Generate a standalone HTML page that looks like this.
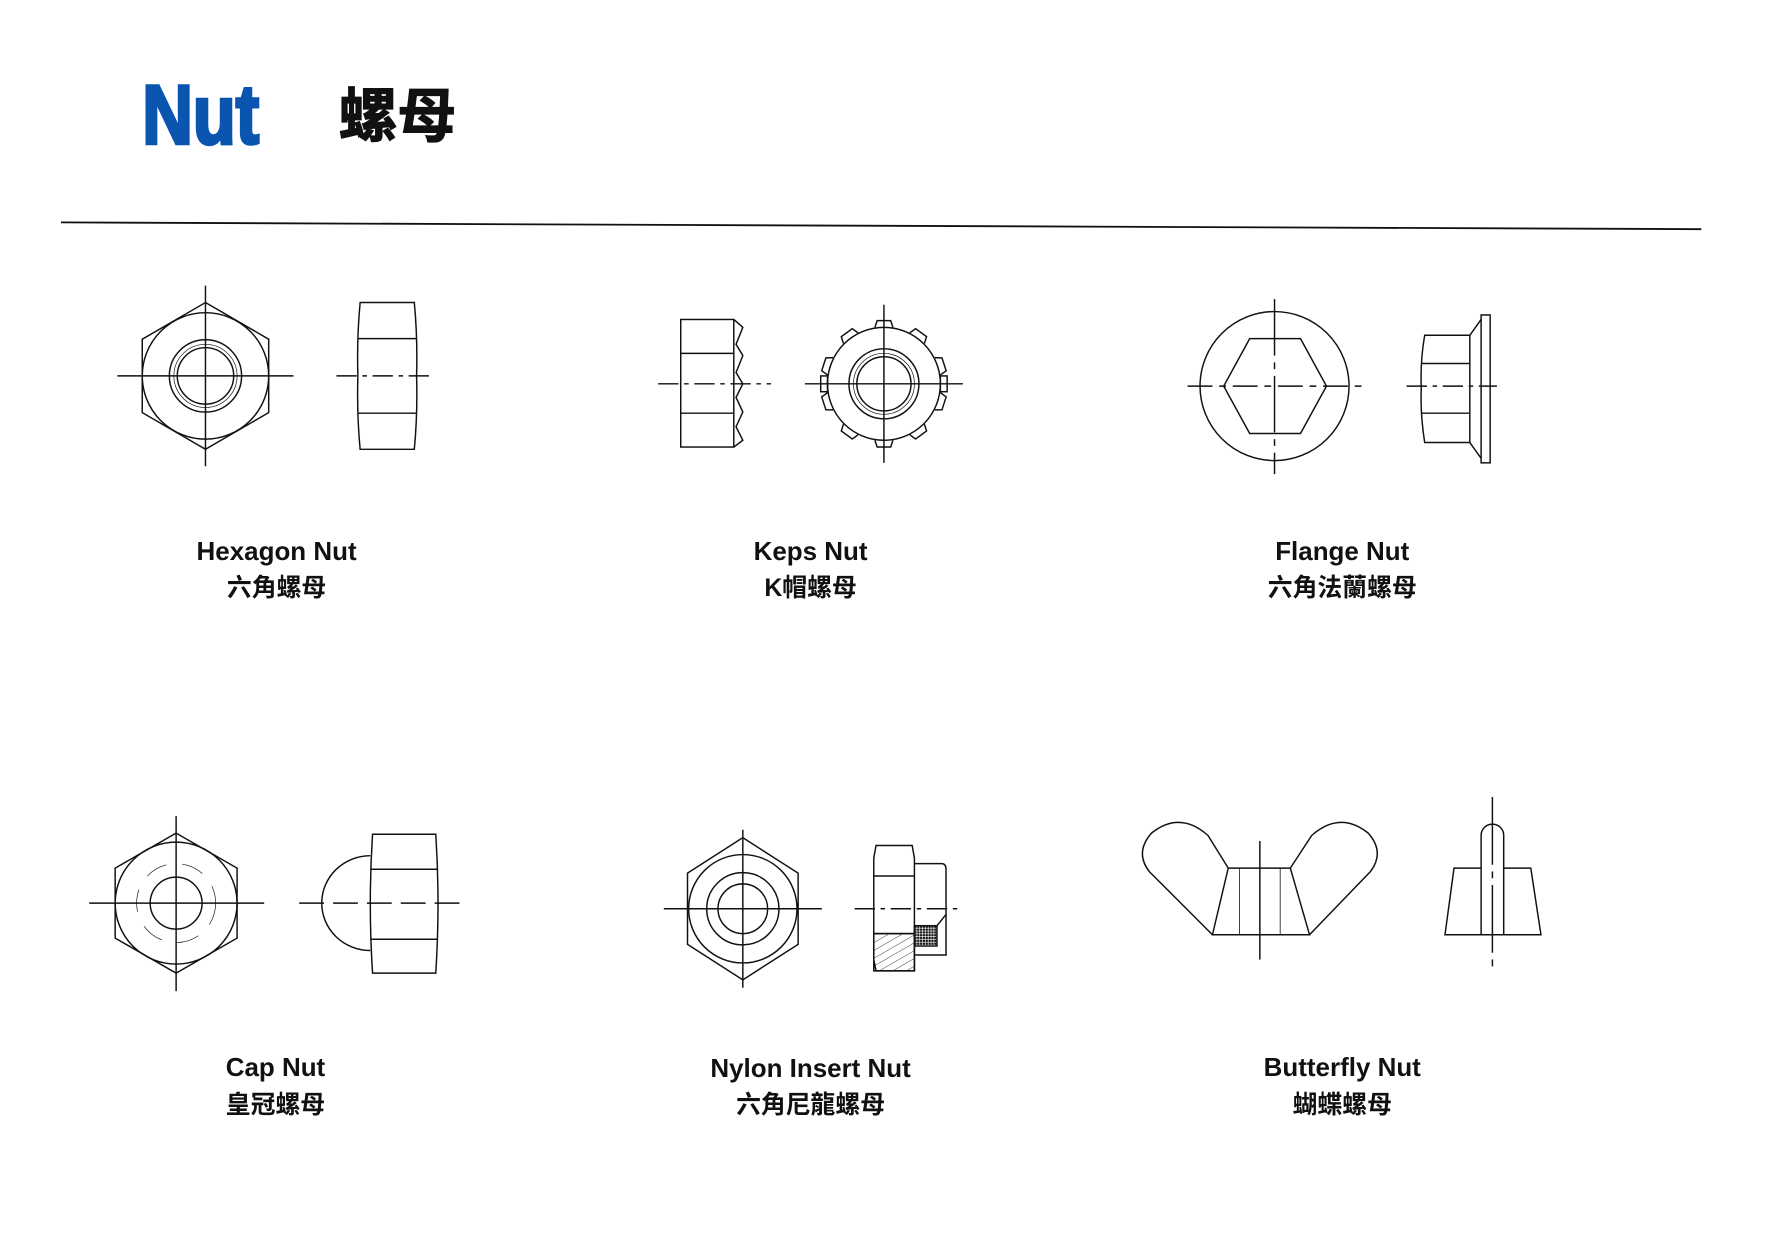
<!DOCTYPE html>
<html><head><meta charset="utf-8"><style>
html,body{margin:0;padding:0;background:#fff;width:1769px;height:1256px;overflow:hidden;}
svg{display:block}
text{font-family:"Liberation Sans","Noto Sans CJK TC",sans-serif;font-weight:bold;fill:#111}
</style></head><body>
<svg width="1769" height="1256" viewBox="0 0 1567 1112.6" xmlns="http://www.w3.org/2000/svg">
<rect width="1567" height="1112.6" fill="#fff"/>
<text x="126" y="127" style="fill:#0a55b0;font-size:74px;stroke:#0a55b0;stroke-width:3" transform="translate(126 0) scale(0.84 1) translate(-126 0)">Nut</text>
<text x="300" y="121" style="font-size:52px;stroke:#111;stroke-width:1">螺母</text>
<line x1="54" y1="197" x2="1507" y2="203" stroke="#111" stroke-width="1.6"/>

<g fill="none" stroke="#111" stroke-width="1.3">
<polygon points="182,268 238,300.5 238,365.5 182,398 126,365.5 126,300.5"/>
<circle cx="182" cy="333" r="56"/>
<circle cx="182" cy="333" r="32"/>
<circle cx="182" cy="333" r="28" stroke-width="0.6"/>
<circle cx="182" cy="333" r="25"/>
<line x1="104" y1="333" x2="260" y2="333"/><line x1="182" y1="253" x2="182" y2="413"/>
<path d="M319,268 H367 Q370,300 369,333 Q370,366 367,398 H319 Q316,366 317,333 Q316,300 319,268Z"/>
<line x1="317" y1="300" x2="369" y2="300"/><line x1="317" y1="366" x2="369" y2="366"/>
<line x1="298" y1="333" x2="383" y2="333" stroke-dasharray="18,5,4,5"/>

<rect x="603" y="283" width="47" height="113"/>
<line x1="603" y1="313" x2="650" y2="313"/><line x1="603" y1="366" x2="650" y2="366"/>
<path d="M650,283 L658,290 L652,305 L658,315 L652,330 L658,340 L652,352 L658,365 L652,378 L658,390 L650,396"/>
<line x1="583" y1="340" x2="683" y2="340" stroke-dasharray="18,5,4,5"/>
<circle cx="783" cy="340" r="50"/>
<circle cx="783" cy="340" r="31"/>
<circle cx="783" cy="340" r="27" stroke-width="0.6"/>
<circle cx="783" cy="340" r="24"/>
<g id="t"><path d="M775,290 L777,284 L789,284 L791,290"/></g>
<use href="#t" transform="rotate(36 783 340)"/><use href="#t" transform="rotate(72 783 340)"/>
<use href="#t" transform="rotate(108 783 340)"/><use href="#t" transform="rotate(144 783 340)"/>
<use href="#t" transform="rotate(180 783 340)"/><use href="#t" transform="rotate(216 783 340)"/>
<use href="#t" transform="rotate(252 783 340)"/><use href="#t" transform="rotate(288 783 340)"/>
<use href="#t" transform="rotate(324 783 340)"/>
<rect x="727" y="333" width="6" height="14"/><rect x="833" y="333" width="6" height="14"/>
<line x1="713" y1="340" x2="853" y2="340"/><line x1="783" y1="270" x2="783" y2="410"/>

<circle cx="1129" cy="342" r="66"/>
<polygon points="1084,342 1107,300 1152,300 1175,342 1152,384 1107,384"/>
<line x1="1052" y1="342" x2="1207" y2="342" stroke-dasharray="22,6,6,6"/>
<line x1="1129" y1="265" x2="1129" y2="420" stroke-dasharray="50,6,6,6"/>
<path d="M1262,297 H1302 V392 H1262 Q1258,366 1259,344 Q1258,320 1262,297Z"/>
<line x1="1259" y1="322" x2="1302" y2="322"/><line x1="1259" y1="366" x2="1302" y2="366"/>
<path d="M1302,297 L1312,283 M1302,392 L1312,406"/>
<rect x="1312" y="279" width="8" height="131"/>
<line x1="1246" y1="342" x2="1326" y2="342" stroke-dasharray="18,5,4,5"/>

<polygon points="156,738 210,769 210,831 156,862 102,831 102,769"/>
<circle cx="156" cy="800" r="54"/>
<circle cx="156" cy="800" r="23"/>
<circle cx="156" cy="800" r="35" stroke-width="0.6" stroke-dasharray="20,14"/>
<line x1="79" y1="800" x2="234" y2="800"/><line x1="156" y1="723" x2="156" y2="878"/>
<path d="M328,758 A43,42 0 0 0 328,842"/>
<path d="M330,739 H386 Q390,800 386,862 H330 Q326,800 330,739Z"/>
<line x1="328" y1="770" x2="388" y2="770"/><line x1="328" y1="832" x2="388" y2="832"/>
<line x1="265" y1="800" x2="408" y2="800" stroke-dasharray="22,8"/>

<polygon points="658,742 707,773.5 707,836.5 658,868 609,836.5 609,773.5"/>
<circle cx="658" cy="805" r="48"/>
<circle cx="658" cy="805" r="32"/>
<circle cx="658" cy="805" r="22"/>
<line x1="588" y1="805" x2="728" y2="805"/><line x1="658" y1="735" x2="658" y2="875"/>
<defs>
<pattern id="h" width="6" height="6" patternUnits="userSpaceOnUse" patternTransform="rotate(60)"><line x1="0" y1="0" x2="0" y2="6" stroke="#111" stroke-width="0.7"/></pattern>
<pattern id="x" width="2.5" height="2.5" patternUnits="userSpaceOnUse"><rect width="1.3" height="1.3" fill="#111"/></pattern>
</defs>
<rect x="774" y="827" width="36" height="33" fill="url(#h)"/>
<path d="M776,749 H808 L810,760 V860 H776 L774,850 V760Z"/>
<line x1="774" y1="776" x2="810" y2="776"/><line x1="774" y1="827" x2="810" y2="827"/>
<path d="M810,765 H834 Q838,765 838,770 V846 H810"/>
<rect x="810" y="820" width="20" height="18" fill="url(#x)"/>
<path d="M830,820 L838,810"/>
<line x1="757" y1="805" x2="850" y2="805" stroke-dasharray="18,5,4,5"/>

<path d="M1074,828 L1018,772 Q1005,755 1020,738 Q1045,718 1070,740 L1088,769"/>
<path d="M1160,828 L1214,772 Q1227,755 1212,738 Q1187,718 1162,740 L1143,769"/>
<polygon points="1088,769 1143,769 1160,828 1074,828"/>
<line x1="1098" y1="769" x2="1098" y2="828" stroke-width="0.7"/>
<line x1="1134" y1="769" x2="1134" y2="828" stroke-width="0.7"/>
<line x1="1116" y1="745" x2="1116" y2="850"/>
<polygon points="1288,769 1356,769 1365,828 1280,828"/>
<path d="M1312,828 L1312,740 A10,10 0 0 1 1332,740 L1332,828" fill="#fff"/>
<line x1="1280" y1="828" x2="1365" y2="828"/>
<line x1="1322" y1="706" x2="1322" y2="860" stroke-dasharray="60,6,6,6"/>
</g>

<g text-anchor="middle" style="font-size:23px">
<text x="245" y="496">Hexagon Nut</text>
<text x="245" y="528" style="font-size:22px">六角螺母</text>
<text x="718" y="496">Keps Nut</text>
<text x="718" y="528" style="font-size:22px">K帽螺母</text>
<text x="1189" y="496">Flange Nut</text>
<text x="1189" y="528" style="font-size:22px">六角法蘭螺母</text>
<text x="244" y="953">Cap Nut</text>
<text x="244" y="986" style="font-size:22px">皇冠螺母</text>
<text x="718" y="954">Nylon Insert Nut</text>
<text x="718" y="986" style="font-size:22px">六角尼龍螺母</text>
<text x="1189" y="953">Butterfly Nut</text>
<text x="1189" y="986" style="font-size:22px">蝴蝶螺母</text>
</g>
</svg>
</body></html>
